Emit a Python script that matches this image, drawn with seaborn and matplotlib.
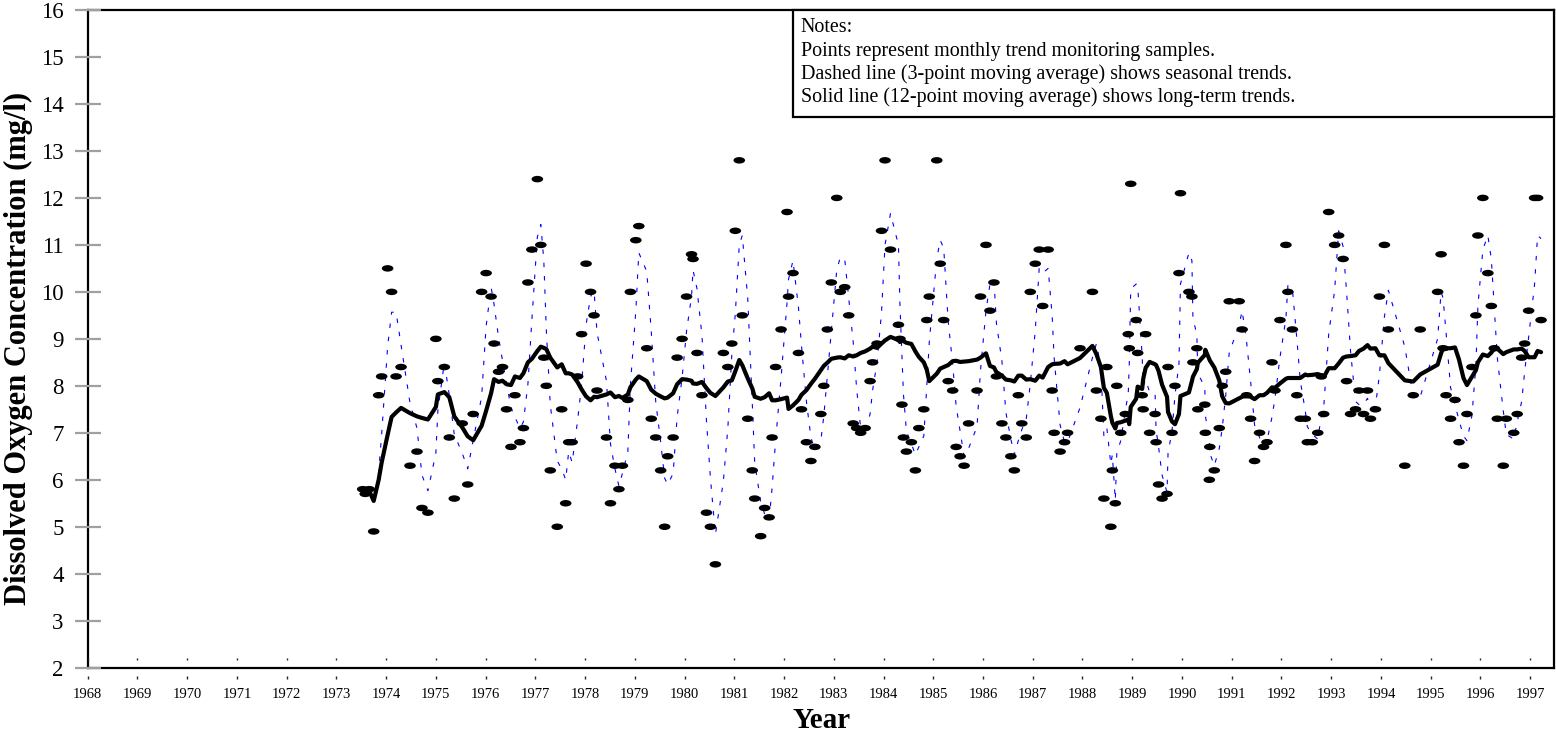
import numpy as np
import pandas as pd
import matplotlib
matplotlib.use("Agg")
import matplotlib.pyplot as plt
import matplotlib.transforms as mtransforms
from matplotlib.path import Path
from matplotlib.markers import MarkerStyle
from matplotlib.patches import Rectangle
import seaborn as sns

# Monthly trend monitoring samples: decimal year of sample and dissolved oxygen (mg/l)
sample_year = [
    1973.53, 1973.58, 1973.66, 1973.75, 1973.85, 1973.91, 1974.03, 1974.11, 1974.20, 1974.30,
    1974.48, 1974.62, 1974.72, 1974.84, 1975.00, 1975.04, 1975.17, 1975.27, 1975.37, 1975.53,
    1975.64, 1975.75, 1975.92, 1976.01, 1976.11, 1976.17, 1976.26, 1976.34, 1976.42, 1976.51,
    1976.59, 1976.69, 1976.76, 1976.85, 1976.93, 1977.04, 1977.11, 1977.17, 1977.22, 1977.30,
    1977.44, 1977.53, 1977.61, 1977.67, 1977.74, 1977.85, 1977.93, 1978.02, 1978.11, 1978.18,
    1978.24, 1978.43, 1978.51, 1978.60, 1978.68, 1978.75, 1978.86, 1978.91, 1979.02, 1979.08,
    1979.24, 1979.33, 1979.42, 1979.52, 1979.60, 1979.66, 1979.77, 1979.85, 1979.95, 1980.04,
    1980.14, 1980.17, 1980.25, 1980.35, 1980.44, 1980.52, 1980.62, 1980.78, 1980.87, 1980.95,
    1981.02, 1981.10, 1981.16, 1981.27, 1981.36, 1981.41, 1981.53, 1981.61, 1981.70, 1981.76,
    1981.83, 1981.94, 1982.06, 1982.09, 1982.18, 1982.29, 1982.35, 1982.45, 1982.54, 1982.62,
    1982.74, 1982.80, 1982.87, 1982.95, 1983.06, 1983.13, 1983.22, 1983.30, 1983.39, 1983.46,
    1983.54, 1983.63, 1983.73, 1983.78, 1983.87, 1983.96, 1984.03, 1984.14, 1984.30, 1984.33,
    1984.37, 1984.40, 1984.46, 1984.56, 1984.64, 1984.71, 1984.81, 1984.87, 1984.92, 1985.07,
    1985.14, 1985.21, 1985.30, 1985.39, 1985.46, 1985.54, 1985.62, 1985.71, 1985.88, 1985.95,
    1986.06, 1986.14, 1986.22, 1986.27, 1986.38, 1986.46, 1986.56, 1986.63, 1986.71, 1986.78,
    1986.87, 1986.95, 1987.05, 1987.13, 1987.20, 1987.31, 1987.39, 1987.43, 1987.55, 1987.64,
    1987.70, 1987.95, 1988.20, 1988.28, 1988.37, 1988.43, 1988.49, 1988.57, 1988.60, 1988.66,
    1988.69, 1988.77, 1988.86, 1988.92, 1988.94, 1988.97, 1989.08, 1989.11, 1989.20, 1989.22,
    1989.27, 1989.35, 1989.46, 1989.48, 1989.53, 1989.60, 1989.70, 1989.72, 1989.80, 1989.86,
    1989.94, 1989.97, 1990.14, 1990.20, 1990.22, 1990.30, 1990.32, 1990.46, 1990.47, 1990.55,
    1990.56, 1990.65, 1990.75, 1990.81, 1990.88, 1990.95, 1991.15, 1991.21, 1991.30, 1991.38,
    1991.46, 1991.56, 1991.64, 1991.71, 1991.81, 1991.87, 1991.97, 1992.09, 1992.13, 1992.22,
    1992.31, 1992.38, 1992.48, 1992.52, 1992.62, 1992.73, 1992.80, 1992.85, 1992.95, 1993.07,
    1993.15, 1993.24, 1993.31, 1993.39, 1993.49, 1993.56, 1993.65, 1993.73, 1993.79, 1993.89,
    1993.97, 1994.07, 1994.15, 1994.48, 1994.65, 1994.79, 1995.14, 1995.21, 1995.25, 1995.31,
    1995.40, 1995.49, 1995.57, 1995.66, 1995.73, 1995.83, 1995.91, 1995.95, 1996.05, 1996.15,
    1996.22, 1996.28, 1996.34, 1996.46, 1996.52, 1996.67, 1996.74, 1996.83, 1996.89, 1996.97,
    1997.09, 1997.15, 1997.22,
]
oxygen_mgl = [
    5.8, 5.7, 5.8, 4.9, 7.8, 8.2, 10.5, 10.0, 8.2, 8.4,
    6.3, 6.6, 5.4, 5.3, 9.0, 8.1, 8.4, 6.9, 5.6, 7.2,
    5.9, 7.4, 10.0, 10.4, 9.9, 8.9, 8.3, 8.4, 7.5, 6.7,
    7.8, 6.8, 7.1, 10.2, 10.9, 12.4, 11.0, 8.6, 8.0, 6.2,
    5.0, 7.5, 5.5, 6.8, 6.8, 8.2, 9.1, 10.6, 10.0, 9.5,
    7.9, 6.9, 5.5, 6.3, 5.8, 6.3, 7.7, 10.0, 11.1, 11.4,
    8.8, 7.3, 6.9, 6.2, 5.0, 6.5, 6.9, 8.6, 9.0, 9.9,
    10.8, 10.7, 8.7, 7.8, 5.3, 5.0, 4.2, 8.7, 8.4, 8.9,
    11.3, 12.8, 9.5, 7.3, 6.2, 5.6, 4.8, 5.4, 5.2, 6.9,
    8.4, 9.2, 11.7, 9.9, 10.4, 8.7, 7.5, 6.8, 6.4, 6.7,
    7.4, 8.0, 9.2, 10.2, 12.0, 10.0, 10.1, 9.5, 7.2, 7.1,
    7.0, 7.1, 8.1, 8.5, 8.9, 11.3, 12.8, 10.9, 9.3, 9.0,
    7.6, 6.9, 6.6, 6.8, 6.2, 7.1, 7.5, 9.4, 9.9, 12.8,
    10.6, 9.4, 8.1, 7.9, 6.7, 6.5, 6.3, 7.2, 7.9, 9.9,
    11.0, 9.6, 10.2, 8.2, 7.2, 6.9, 6.5, 6.2, 7.8, 7.2,
    6.9, 10.0, 10.6, 10.9, 9.7, 10.9, 7.9, 7.0, 6.6, 6.8,
    7.0, 8.8, 10.0, 7.9, 7.3, 5.6, 8.4, 5.0, 6.2, 5.5,
    8.0, 7.0, 7.4, 9.1, 8.8, 12.3, 9.4, 8.7, 7.8, 7.5,
    9.1, 7.0, 7.4, 6.8, 5.9, 5.6, 5.7, 8.4, 7.0, 8.0,
    10.4, 12.1, 10.0, 9.9, 8.5, 8.8, 7.5, 7.6, 7.0, 6.0,
    6.7, 6.2, 7.1, 8.0, 8.3, 9.8, 9.8, 9.2, 7.8, 7.3,
    6.4, 7.0, 6.7, 6.8, 8.5, 7.9, 9.4, 11.0, 10.0, 9.2,
    7.8, 7.3, 7.3, 6.8, 6.8, 7.0, 8.2, 7.4, 11.7, 11.0,
    11.2, 10.7, 8.1, 7.4, 7.5, 7.9, 7.4, 7.9, 7.3, 7.5,
    9.9, 11.0, 9.2, 6.3, 7.8, 9.2, 10.0, 10.8, 8.8, 7.8,
    7.3, 7.7, 6.8, 6.3, 7.4, 8.4, 9.5, 11.2, 12.0, 10.4,
    9.7, 8.8, 7.3, 6.3, 7.3, 7.0, 7.4, 8.6, 8.9, 9.6,
    12.0, 12.0, 9.4,
]

year_ticks = list(range(1968, 1998))
conc_ticks = list(range(2, 17))
note_lines = [
    "Notes:",
    "Points represent monthly trend monitoring samples.",
    "Dashed line (3-point moving average) shows seasonal trends.",
    "Solid line (12-point moving average) shows long-term trends.",
]

df = pd.DataFrame({"year": sample_year, "do": oxygen_mgl}).sort_values("year")
df["ma3"] = df["do"].rolling(3, min_periods=1).mean()
df["ma12"] = df["do"].rolling(12, min_periods=1).mean()

sns.set_style("white")
plt.rcParams["font.family"] = ["Liberation Serif", "DejaVu Serif"]
plt.rcParams["text.color"] = "black"
plt.rcParams["axes.labelcolor"] = "black"

fig = plt.figure(figsize=(15.56, 7.32), dpi=100)
ax = fig.add_axes([87.7 / 1556, 1 - 667.7 / 732, (1554 - 87.7) / 1556, (667.7 - 10) / 732])

# flattened-ellipse marker for samples
ellipse = Path.unit_circle().transformed(mtransforms.Affine2D().scale(1.0, 0.56))
sns.scatterplot(data=df, x="year", y="do", marker=MarkerStyle(ellipse), s=70,
                color="black", edgecolor="none", linewidth=0, ax=ax, zorder=3, legend=False)
sns.lineplot(data=df, x="year", y="ma3", color="#0000ff", lw=0.8, linestyle=(0, (4, 8)),
             estimator=None, sort=False, ax=ax, zorder=2, legend=False)
sns.lineplot(data=df, x="year", y="ma12", color="black", lw=3.0, estimator=None, sort=False,
             ax=ax, zorder=4, legend=False)

ax.set_xlim(1968, 1997.48)
ax.set_ylim(2, 16)
ax.set_xticks(year_ticks)
ax.set_xticklabels([str(y) for y in year_ticks])
ax.set_yticks(conc_ticks)
ax.set_axisbelow(False)
ax.tick_params(axis="y", left=True, direction="inout", length=18.7, width=1.6,
               color="#a0a0a0", pad=8, labelsize=16.5, labelcolor="black")
ax.tick_params(axis="x", bottom=False, length=0, pad=14.6, labelsize=10.5, labelcolor="black")

# small detached year marks above and below the bottom spine
xt = ax.get_xaxis_transform()
ax.vlines(year_ticks, 0.011, 0.015, transform=xt, colors="#222222", lw=1.0, zorder=5)
ax.vlines(year_ticks, -0.0172, -0.0122, transform=xt, colors="#222222", lw=1.0,
          clip_on=False, zorder=5)

for sp in ax.spines.values():
    sp.set_color("black")
    sp.set_linewidth(1.6)

ax.set_xlabel("Year", fontsize=21, fontweight="bold", color="black")
ax.set_ylabel("Dissolved Oxygen Concentration (mg/l)", fontsize=22, fontweight="bold",
              color="black")
ax.xaxis.set_label_coords(0.5008, -0.059)
ax.yaxis.set_label_coords(-0.0373, 0.485)

# notes box
box_left, box_bottom = 0.4808, 0.8369
ax.add_patch(Rectangle((box_left, box_bottom), 1 - box_left, 1 - box_bottom,
                       transform=ax.transAxes, facecolor="white", edgecolor="black",
                       lw=1.6, zorder=6, clip_on=False))
for line, yb in zip(note_lines, [0.9666, 0.9308, 0.8951, 0.8601]):
    ax.text(0.4863, yb, line, transform=ax.transAxes, fontsize=14.4, va="baseline",
            ha="left", color="black", zorder=7)

fig.savefig("out.png", dpi=100, facecolor="white")
